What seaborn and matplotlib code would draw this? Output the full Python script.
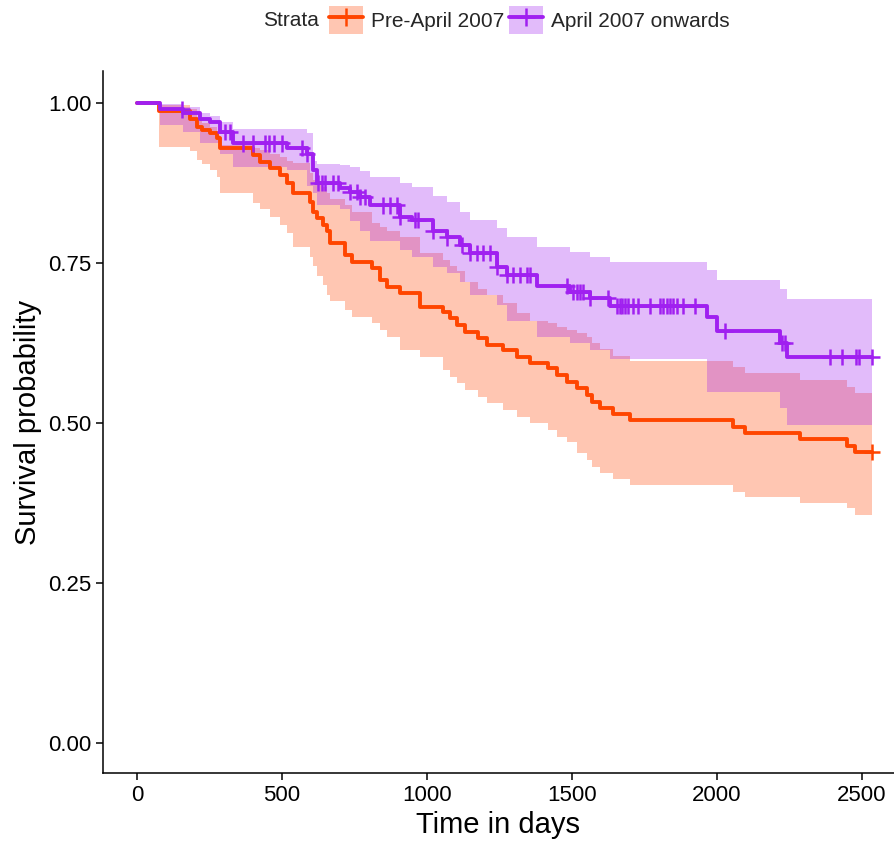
import matplotlib
matplotlib.use("Agg")
import matplotlib.pyplot as plt
import numpy as np
import pandas as pd
import seaborn as sns
from matplotlib.patches import Patch
from matplotlib.lines import Line2D
from matplotlib.legend_handler import HandlerTuple

# Pre-April 2007
pre_time = [0, 76, 183, 207, 224, 252, 276, 286, 400, 424, 459, 493, 517, 538, 597, 607, 621, 641, 655, 666,
            717, 741, 810, 838, 862, 907, 976, 1055, 1079, 1103, 1131, 1176, 1207, 1262, 1310, 1355, 1417, 1448,
            1483, 1517, 1552, 1569, 1597, 1641, 1700, 2055, 2097, 2286, 2448, 2476, 2535]
pre_surv = [1.000, 0.988, 0.975, 0.963, 0.958, 0.953, 0.945, 0.930, 0.919, 0.908, 0.898, 0.888, 0.875, 0.860,
            0.845, 0.830, 0.820, 0.810, 0.800, 0.781, 0.762, 0.752, 0.742, 0.723, 0.713, 0.703, 0.681, 0.673,
            0.664, 0.653, 0.642, 0.633, 0.622, 0.614, 0.603, 0.594, 0.586, 0.575, 0.564, 0.555, 0.544, 0.533,
            0.523, 0.514, 0.505, 0.494, 0.484, 0.475, 0.464, 0.455, 0.455]
pre_lower = [1.000, 0.931, 0.925, 0.911, 0.905, 0.895, 0.885, 0.859, 0.844, 0.835, 0.822, 0.810, 0.797, 0.775,
             0.760, 0.745, 0.730, 0.715, 0.700, 0.690, 0.677, 0.666, 0.656, 0.645, 0.634, 0.614, 0.603, 0.583,
             0.572, 0.562, 0.552, 0.541, 0.531, 0.520, 0.510, 0.500, 0.489, 0.478, 0.470, 0.453, 0.442, 0.431,
             0.422, 0.412, 0.403, 0.392, 0.384, 0.375, 0.367, 0.356, 0.356]
pre_upper = [1.000, 0.997, 0.990, 0.975, 0.969, 0.962, 0.950, 0.935, 0.930, 0.927, 0.920, 0.916, 0.910, 0.906,
             0.890, 0.880, 0.875, 0.868, 0.860, 0.850, 0.840, 0.830, 0.812, 0.806, 0.800, 0.790, 0.766, 0.755,
             0.745, 0.738, 0.720, 0.710, 0.700, 0.687, 0.672, 0.660, 0.656, 0.650, 0.645, 0.640, 0.634, 0.625,
             0.615, 0.605, 0.597, 0.588, 0.578, 0.567, 0.556, 0.547, 0.547]
pre_censor = [2535]

# April 2007 onwards
post_time = [0, 79, 159, 217, 252, 286, 331, 517, 586, 607, 621, 700, 734, 769, 803, 907, 950, 1021, 1069,
             1114, 1148, 1241, 1276, 1379, 1493, 1562, 1631, 1966, 2000, 2217, 2241, 2535]
post_surv = [1.000, 0.990, 0.984, 0.975, 0.970, 0.955, 0.937, 0.930, 0.920, 0.895, 0.875, 0.867, 0.861, 0.853,
             0.840, 0.822, 0.817, 0.800, 0.790, 0.778, 0.766, 0.744, 0.731, 0.714, 0.705, 0.695, 0.683, 0.666,
             0.644, 0.625, 0.603, 0.603]
post_lower = [1.000, 0.966, 0.955, 0.937, 0.937, 0.920, 0.900, 0.895, 0.870, 0.860, 0.840, 0.835, 0.815, 0.800,
              0.785, 0.770, 0.760, 0.744, 0.734, 0.720, 0.700, 0.685, 0.660, 0.635, 0.625, 0.614, 0.600, 0.548,
              0.548, 0.523, 0.497, 0.497]
post_upper = [1.000, 0.998, 0.994, 0.985, 0.980, 0.970, 0.960, 0.960, 0.953, 0.910, 0.905, 0.903, 0.900, 0.893,
              0.885, 0.875, 0.868, 0.855, 0.845, 0.830, 0.817, 0.805, 0.790, 0.775, 0.767, 0.760, 0.752, 0.739,
              0.723, 0.710, 0.694, 0.694]
post_censor = [155, 303, 321, 366, 400, 441, 455, 472, 500, 569, 586, 624, 638, 648, 676, 693, 734, 759, 769,
               786, 848, 872, 897, 907, 959, 969, 1021, 1069, 1121, 1148, 1172, 1193, 1217, 1241, 1276, 1297,
               1321, 1345, 1355, 1483, 1503, 1517, 1528, 1538, 1562, 1624, 1655, 1666, 1672, 1683, 1693, 1710,
               1728, 1769, 1803, 1814, 1828, 1838, 1848, 1862, 1883, 1924, 2028, 2224, 2234, 2390, 2431, 2479,
               2490, 2535]

labels = ["Pre-April 2007", "April 2007 onwards"]
colors = {"Pre-April 2007": "#FF4500", "April 2007 onwards": "#A020F0"}

groups = [
    (labels[0], pre_time, pre_surv, pre_lower, pre_upper, pre_censor),
    (labels[1], post_time, post_surv, post_lower, post_upper, post_censor),
]

curves = []
marks = []
for name, t, s, lo, up, cens in groups:
    curves.append(pd.DataFrame({"time": t, "surv": s, "strata": name}))
    idx = np.searchsorted(np.array(t), cens, side="right") - 1
    marks.append(pd.DataFrame({"time": cens, "surv": np.array(s)[idx], "strata": name}))
curve_df = pd.concat(curves, ignore_index=True)
mark_df = pd.concat(marks, ignore_index=True)

sns.set_theme(style="ticks")
plt.rcParams["font.family"] = ["Liberation Sans", "DejaVu Sans"]

fig = plt.figure(figsize=(8.94, 8.47), dpi=100)
ax = fig.add_axes([103 / 894, 74 / 847, 791 / 894, 702 / 847])

# confidence bands
for name, t, s, lo, up, cens in groups:
    ax.fill_between(t, lo, up, step="post", color=colors[name], alpha=0.3, linewidth=0)

sns.lineplot(data=curve_df, x="time", y="surv", hue="strata", palette=colors, estimator=None,
             sort=False, drawstyle="steps-post", linewidth=2.8, legend=False, ax=ax)
sns.scatterplot(data=mark_df, x="time", y="surv", hue="strata", palette=colors, marker="+",
                s=140, linewidth=1.8, legend=False, ax=ax, zorder=4)

ax.set_xlim(-117, 2610)
ax.set_ylim(-0.047, 1.05)
ax.set_xticks([0, 500, 1000, 1500, 2000, 2500])
ax.set_yticks([0, 0.25, 0.5, 0.75, 1.0])
ax.set_yticklabels(["0.00", "0.25", "0.50", "0.75", "1.00"])
ax.tick_params(axis="both", labelsize=16, length=5, width=1.1, color="black", labelcolor="black")
ax.set_xlabel("Time in days", fontsize=21, color="black")
ax.set_ylabel("Survival probability", fontsize=21, color="black")
for side in ["top", "right"]:
    ax.spines[side].set_visible(False)
for side in ["left", "bottom"]:
    ax.spines[side].set_color("black")
    ax.spines[side].set_linewidth(1.1)

# legend on top
handles = []
for name in labels:
    handles.append((Patch(facecolor=colors[name], alpha=0.3, edgecolor="none"),
                    Line2D([], [], color=colors[name], lw=2.8, marker="+", ms=13, mew=1.8)))
fig.text(291 / 894, 1 - 20 / 847, "Strata", fontsize=15, ha="center", va="center")
fig.legend(handles, labels, handler_map={tuple: HandlerTuple(ndivide=1, pad=0)}, ncol=2,
           loc="center left", bbox_to_anchor=(329 / 894, 1 - 20 / 847), frameon=False, fontsize=15,
           handlelength=1.63, handleheight=1.63, handletextpad=0.38, columnspacing=0.24, borderpad=0,
           borderaxespad=0)

fig.savefig("out.png", dpi=100)
